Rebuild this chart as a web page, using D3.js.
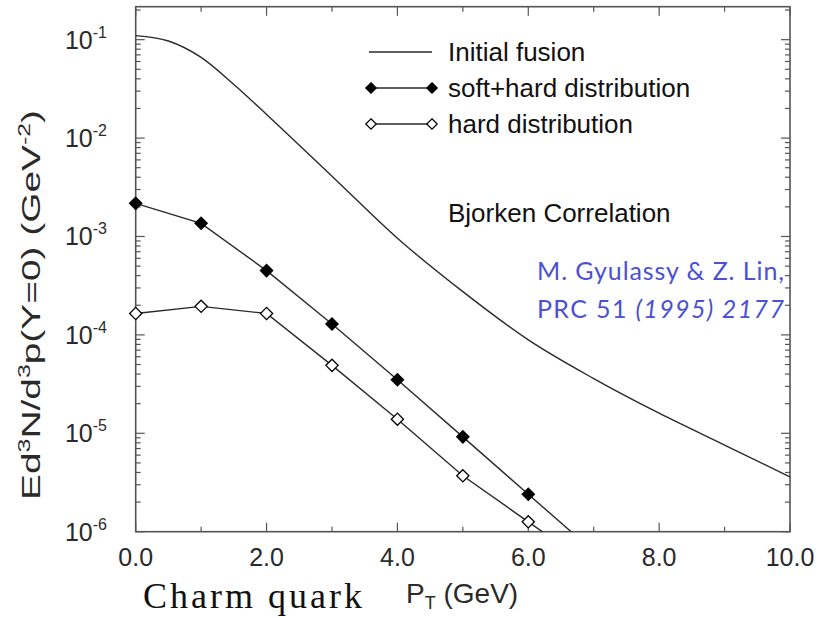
<!DOCTYPE html>
<html>
<head>
<meta charset="utf-8">
<script src="https://cdn.jsdelivr.net/npm/d3@7"></script>
<style>
  body { margin: 0; background: #fff; }
  svg { display: block; }
</style>
</head>
<body>
<div id="chart"></div>
<script>
// pT values (GeV) and spectra
const fusionPt = [0, 0.5, 1, 1.5, 2, 3, 4, 5, 6, 7, 8, 9, 10];
const fusionVal = [0.11, 0.097, 0.066, 0.035, 0.0174, 4.1e-3, 9.6e-4, 2.75e-4, 8.9e-5, 3.6e-5, 1.6e-5, 7.6e-6, 3.6e-6];

// last entry (pT = 7) lies below the frame, it only carries the line to the axis
const markerPt = [0, 1, 2, 3, 4, 5, 6, 7];
const softHardVal = [2.17e-3, 1.36e-3, 4.5e-4, 1.29e-4, 3.5e-5, 9.2e-6, 2.4e-6, 6.3e-7];
const hardVal = [1.65e-4, 1.95e-4, 1.65e-4, 4.9e-5, 1.39e-5, 3.7e-6, 1.26e-6, 4.3e-7];

const xTicks = [0, 2, 4, 6, 8, 10];
const xMinor = [1, 3, 5, 7, 9];
const yExponents = [-1, -2, -3, -4, -5, -6];

(function () {
const W = 820, H = 618;
const pLeft = 135.7, pRight = 790, pTop = 6.7, pBottom = 531.7;

const svg = d3.select("#chart").append("svg")
  .attr("width", W)
  .attr("height", H);

const x = d3.scaleLinear().domain([0, 10]).range([pLeft, pRight]);
const y = d3.scaleLog().domain([1e-6, Math.pow(10, -0.665)]).range([pBottom, pTop]);

const ink = "#2a2a2a";
const font = "'Liberation Sans', Arial, sans-serif";

// minor ticks of the log axis: 2..9 in each decade
const yMinor = [];
for (let e = -6; e <= -1; e++) {
  for (let m = 2; m <= 9; m++) {
    const v = m * Math.pow(10, e);
    if (v < y.domain()[1]) yMinor.push(v);
  }
}

const tickG = svg.append("g").attr("stroke", "#555").attr("stroke-width", 1.2);

// left and right ticks point inward
yExponents.forEach(e => {
  const v = Math.pow(10, e);
  tickG.append("line").attr("x1", pLeft).attr("x2", pLeft + 9).attr("y1", y(v)).attr("y2", y(v));
  tickG.append("line").attr("x1", pRight).attr("x2", pRight - 9).attr("y1", y(v)).attr("y2", y(v));
});
yMinor.forEach(v => {
  tickG.append("line").attr("x1", pLeft).attr("x2", pLeft + 5).attr("y1", y(v)).attr("y2", y(v));
  tickG.append("line").attr("x1", pRight).attr("x2", pRight - 5).attr("y1", y(v)).attr("y2", y(v));
});

// bottom and top ticks
xTicks.forEach(t => {
  tickG.append("line").attr("x1", x(t)).attr("x2", x(t)).attr("y1", pBottom).attr("y2", pBottom - 9);
  tickG.append("line").attr("x1", x(t)).attr("x2", x(t)).attr("y1", pTop).attr("y2", pTop + 9);
});
xMinor.forEach(t => {
  tickG.append("line").attr("x1", x(t)).attr("x2", x(t)).attr("y1", pBottom).attr("y2", pBottom - 5);
  tickG.append("line").attr("x1", x(t)).attr("x2", x(t)).attr("y1", pTop).attr("y2", pTop + 5);
});

// frame
svg.append("rect")
  .attr("x", pLeft).attr("y", pTop)
  .attr("width", pRight - pLeft).attr("height", pBottom - pTop)
  .attr("fill", "none")
  .attr("stroke", "#555")
  .attr("stroke-width", 1.6);

// x tick labels
svg.append("g").selectAll("text")
  .data(xTicks)
  .join("text")
  .attr("x", d => x(d))
  .attr("y", 566)
  .attr("text-anchor", "middle")
  .attr("font-family", font)
  .attr("font-size", 25)
  .attr("fill", ink)
  .text(d => d.toFixed(1));

// y tick labels 10^n
const yLab = svg.append("g").selectAll("text")
  .data(yExponents)
  .join("text")
  .attr("x", 107)
  .attr("y", d => y(Math.pow(10, d)) + 9)
  .attr("text-anchor", "end")
  .attr("font-family", font)
  .attr("font-size", 25)
  .attr("fill", ink);
yLab.append("tspan").text("10");
yLab.append("tspan").attr("font-size", 16).attr("dy", -11).text(d => "-" + (-d));

// y axis title
const yTitle = svg.append("text")
  .attr("transform", "translate(40,305) rotate(-90)")
  .attr("text-anchor", "middle")
  .attr("font-family", font)
  .attr("font-size", 25)
  .attr("textLength", 390)
  .attr("lengthAdjust", "spacingAndGlyphs")
  .attr("fill", ink);
yTitle.append("tspan").text("Ed");
yTitle.append("tspan").attr("font-size", 16).attr("dy", -10).text("3");
yTitle.append("tspan").attr("dy", 10).text("N/d");
yTitle.append("tspan").attr("font-size", 16).attr("dy", -10).text("3");
yTitle.append("tspan").attr("dy", 10).text("p(Y=0) (GeV");
yTitle.append("tspan").attr("font-size", 16).attr("dy", -10).text("-2");
yTitle.append("tspan").attr("dy", 10).text(")");

// x axis title
const xTitle = svg.append("text")
  .attr("x", 406)
  .attr("y", 603)
  .attr("font-family", font)
  .attr("font-size", 28)
  .attr("fill", ink);
xTitle.append("tspan").text("P");
xTitle.append("tspan").attr("font-size", 18).attr("dy", 6).text("T");
xTitle.append("tspan").attr("dy", -6).text(" (GeV)");

svg.append("text")
  .attr("x", 143)
  .attr("y", 608)
  .attr("font-family", "'Liberation Serif', 'DejaVu Serif', serif")
  .attr("font-size", 36)
  .attr("textLength", 219)
  .attr("lengthAdjust", "spacing")
  .attr("fill", "#111")
  .text("Charm quark");

// clip the curves to the frame
svg.append("clipPath").attr("id", "plotClip")
  .append("rect")
  .attr("x", pLeft).attr("y", pTop)
  .attr("width", pRight - pLeft).attr("height", pBottom - pTop);

const plot = svg.append("g").attr("clip-path", "url(#plotClip)");

const fusionLine = d3.line()
  .x(d => x(d[0]))
  .y(d => y(d[1]))
  .curve(d3.curveMonotoneX);

plot.append("path")
  .datum(fusionPt.map((p, i) => [p, fusionVal[i]]))
  .attr("fill", "none")
  .attr("stroke", ink)
  .attr("stroke-width", 1.4)
  .attr("d", fusionLine);

const straight = d3.line()
  .x(d => x(d[0]))
  .y(d => y(d[1]));

const diamond = d3.symbol().type(d3.symbolDiamond2).size(95);

const series = [
  { vals: softHardVal, fill: "#000" },
  { vals: hardVal, fill: "#fff" }
];

series.forEach(s => {
  const pts = markerPt.map((p, i) => [p, s.vals[i]]);
  plot.append("path")
    .datum(pts)
    .attr("fill", "none")
    .attr("stroke", ink)
    .attr("stroke-width", 1.4)
    .attr("d", straight);

  svg.append("g").selectAll("path")
    .data(pts.filter(d => d[1] >= 1e-6))
    .join("path")
    .attr("transform", d => `translate(${x(d[0])},${y(d[1])})`)
    .attr("d", diamond)
    .attr("fill", s.fill)
    .attr("stroke", "#000")
    .attr("stroke-width", 1.3);
});

// legend
const legend = svg.append("g");
const legendRows = [
  { label: "Initial fusion", marker: null, y: 52 },
  { label: "soft+hard distribution", marker: "#000", y: 88 },
  { label: "hard distribution", marker: "#fff", y: 124 }
];
legendRows.forEach(r => {
  legend.append("line")
    .attr("x1", 369).attr("x2", 432)
    .attr("y1", r.y).attr("y2", r.y)
    .attr("stroke", ink)
    .attr("stroke-width", 1.4);
  if (r.marker) {
    [371, 432].forEach(mx => {
      legend.append("path")
        .attr("transform", `translate(${mx},${r.y})`)
        .attr("d", d3.symbol().type(d3.symbolDiamond2).size(70))
        .attr("fill", r.marker)
        .attr("stroke", "#000")
        .attr("stroke-width", 1.2);
    });
  }
  legend.append("text")
    .attr("x", 448)
    .attr("y", r.y + 9)
    .attr("font-family", font)
    .attr("font-size", 26)
    .attr("fill", "#111")
    .text(r.label);
});

svg.append("text")
  .attr("x", 448)
  .attr("y", 222)
  .attr("font-family", font)
  .attr("font-size", 26)
  .attr("fill", "#111")
  .text("Bjorken Correlation");

// reference note in blue
const note = svg.append("g")
  .attr("font-family", "Lato, 'Open Sans', sans-serif")
  .attr("font-size", 25)
  .attr("fill", "#4a51d4");
note.append("text")
  .attr("x", 537).attr("y", 280)
  .attr("textLength", 247)
  .attr("lengthAdjust", "spacing")
  .text("M. Gyulassy & Z. Lin,");
const note2 = note.append("text")
  .attr("x", 537).attr("y", 318)
  .attr("textLength", 247)
  .attr("lengthAdjust", "spacing");
note2.append("tspan").text("PRC 51 ");
note2.append("tspan").attr("font-style", "italic").text("(1995) 2177");
})();
</script>
</body>
</html>
